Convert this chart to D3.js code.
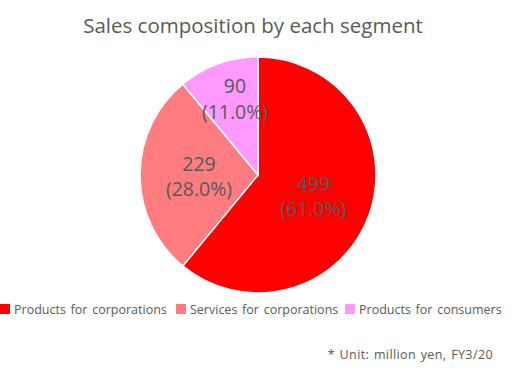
<!DOCTYPE html>
<html>
<head>
<meta charset="utf-8">
<script src="https://cdn.jsdelivr.net/npm/d3@7"></script>
<style>
  body { margin: 0; background: #fff; }
  text { font-family: "Open Sans", "DejaVu Sans", sans-serif; fill: #595959; }
</style>
</head>
<body>
<svg id="pie-chart"></svg>
<script>
var segments = ["Products for corporations", "Services for corporations", "Products for consumers"];
var sales = [499, 229, 90];
var colors = ["#FF0000", "#FF7C80", "#FF99FF"];

var width = 517, height = 378;
var cx = 258, cy = 175, radius = 118;

var svg = d3.select('#pie-chart')
            .attr('width', width)
            .attr('height', height);

svg.append('text')
    .attr('x', 253)
    .attr('y', 33)
    .attr('text-anchor', 'middle')
    .style('font-size', '20.5px')
    .text('Sales composition by each segment');

var total = d3.sum(sales);
var data = segments.map((s, i) => ({ name: s, value: sales[i], color: colors[i] }));

var pie = d3.pie().value(d => d.value).sort(null);
var arc = d3.arc().innerRadius(0).outerRadius(radius);

var g = svg.append('g').attr('transform', 'translate(' + cx + ',' + cy + ')');
var arcs = pie(data);

g.selectAll('path')
    .data(arcs)
    .enter()
    .append('path')
    .attr('d', arc)
    .attr('fill', d => d.data.color)
    .attr('stroke', '#fff')
    .style('stroke-width', 1.5);

// small slice label sits further out, like Excel's best fit
var labelR = d => (d.endAngle - d.startAngle) < 1 ? radius * 0.7 : radius * 0.5;

var labels = g.selectAll('.lbl')
    .data(arcs)
    .enter()
    .append('text')
    .attr('class', 'lbl')
    .attr('text-anchor', 'middle')
    .style('font-size', '19.5px')
    .attr('transform', function(d) {
        var a = (d.startAngle + d.endAngle) / 2, r = labelR(d);
        var x = r * Math.sin(a), y = -r * Math.cos(a);
        if ((d.endAngle - d.startAngle) < 1) x += 5;
        return 'translate(' + x + ',' + y + ')';
    });
labels.append('tspan').attr('x', 0).attr('dy', '-0.2em').text(d => d.data.value);
labels.append('tspan').attr('x', 0).attr('dy', '1.3em')
    .text(d => '(' + (d.data.value / total * 100).toFixed(1) + '%)');

// legend
var legendX = [0, 176, 345];
var legend = svg.selectAll('.legend')
    .data(data)
    .enter()
    .append('g')
    .attr('class', 'legend')
    .attr('transform', (d, i) => 'translate(' + legendX[i] + ',304)');
legend.append('rect')
    .attr('width', 10).attr('height', 10)
    .attr('fill', d => d.color);
legend.append('text')
    .attr('x', 14)
    .attr('y', 10)
    .style('font-size', '12.5px')
    .style('word-spacing', '1.5px')
    .text(d => d.name);

svg.append('text')
    .attr('x', 493)
    .attr('y', 359)
    .attr('text-anchor', 'end')
    .style('font-size', '12.5px')
    .style('letter-spacing', '0.4px')
    .style('word-spacing', '1px')
    .text('* Unit: million yen, FY3/20');
</script>
</body>
</html>
